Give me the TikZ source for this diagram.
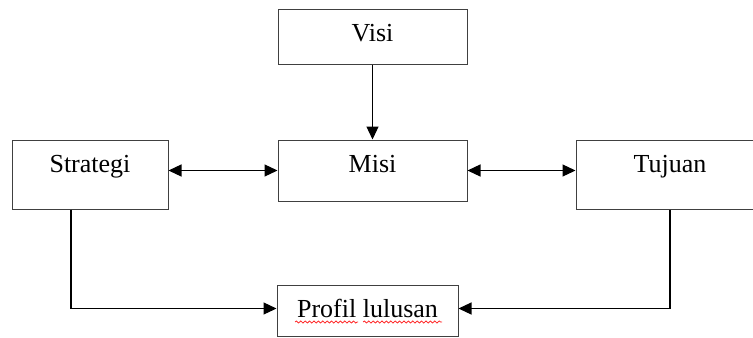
\documentclass[tikz,border=0pt]{standalone}
\usepackage{fontspec}
\setmainfont{Liberation Serif}
\usepackage{tikz}
\usetikzlibrary{arrows.meta}
\usetikzlibrary{decorations.pathmorphing}

\tikzset{
  flowbox/.style={draw=black!75, line width=0.5pt, inner sep=0pt,
    text height=16pt, font=\fontsize{13}{15}\selectfont},
  link/.style={line width=0.6pt},
  squiggle/.style={red!85, line width=0.4pt, decorate,
    decoration={snake, amplitude=0.5pt, segment length=2.2pt}}
}

\begin{document}
\begin{tikzpicture}[x=0.5pt, y=-0.5pt, >={Triangle[length=6.5pt, width=6pt]}]%

\path [use as bounding box, clip] (0,0) rectangle (753,337);

\foreach \n/\l/\x/\y/\w/\d in {visi/Visi/372.5/36.5/94.5/11.5,
    misi/Misi/372.5/170.5/94.5/14.5,
    strategi/Strategi/90/174.5/78/18.5,
    tujuan/Tujuan/670/174.5/94/18.5,
    profil/Profil lulusan/367.5/310.5/90.5/9.5}
  \node [flowbox, minimum width=\w pt, text depth=\d pt] (\n) at (\x,\y) {\l};

\draw [link, ->] (visi) -- (misi);

\draw [link, <->] (strategi.east |- misi.west) -- (misi.west);
\draw [link, <->] (misi.east) -- (misi.east -| tujuan.west);

\draw [link, ->] ([xshift=-9.5pt]strategi.south) |- ([yshift=1pt]profil.west);
\draw [link, ->] (tujuan.south) |- ([yshift=1pt]profil.east);

% spelling marks
\draw [squiggle] (295,322) -- (358,322);
\draw [squiggle] (363,322) -- (442,322);

\end{tikzpicture}
\end{document}
